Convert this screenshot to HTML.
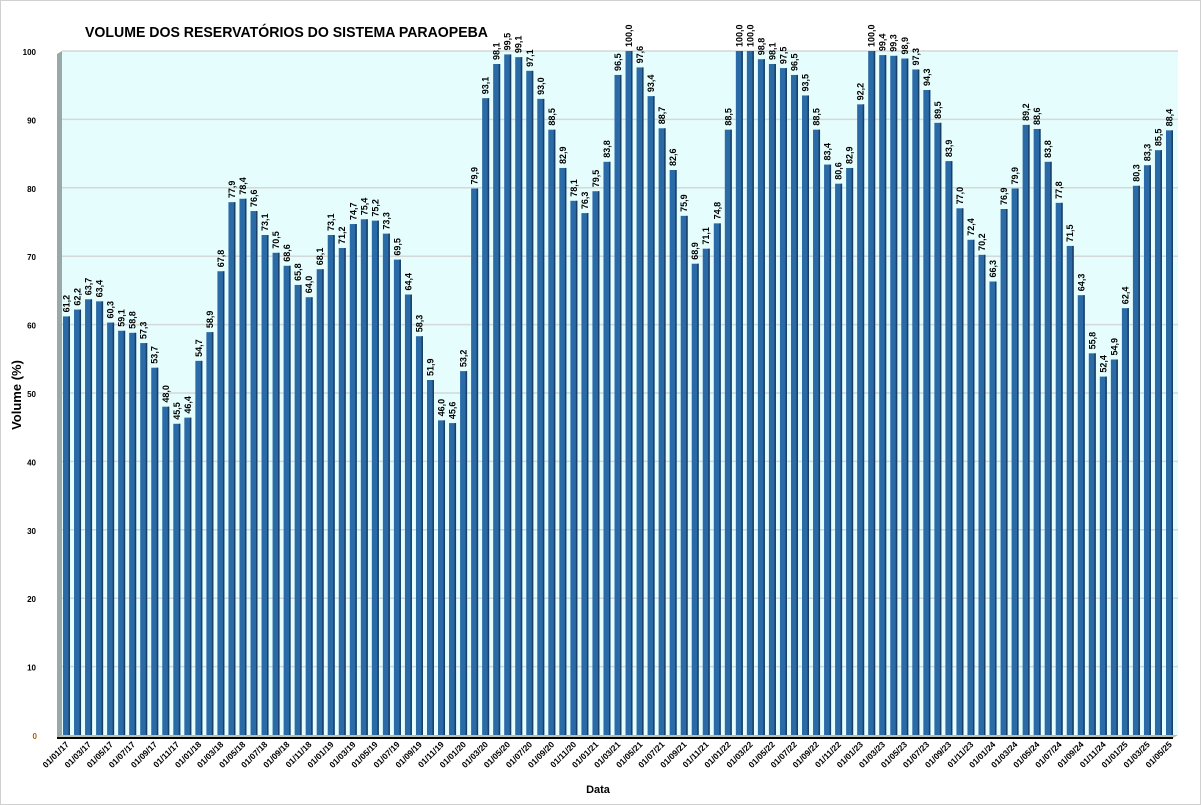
<!DOCTYPE html>
<html><head><meta charset="utf-8"><style>
body{margin:0;background:#fff;}
svg{display:block;font-family:"Liberation Sans",sans-serif;}
</style></head><body>
<svg id="c" width="1201" height="805">
<rect x="0.5" y="0.5" width="1200" height="804" fill="#fff" stroke="#d0d0d0"/>
<text x="85" y="37" font-size="15" font-weight="bold" textLength="403" lengthAdjust="spacingAndGlyphs">VOLUME DOS RESERVATÓRIOS DO SISTEMA  PARAOPEBA</text>
<rect x="62" y="51" width="1116" height="684" fill="#e6fdfd"/>
<polygon points="57,54 62,51 62,735 57,738" fill="#9aa8a8"/>
<polygon points="57,738 62,735 1178,735 1173,738" fill="#bdbfa8"/>
<line x1="57" y1="738" x2="1173" y2="738" stroke="#000" stroke-width="2"/>
<g id="grid"></g><g id="bars"></g><g id="labels"></g><g id="xt"></g><g id="yt"></g>
<text transform="translate(21,395) rotate(-90)" text-anchor="middle" font-size="13" font-weight="bold">Volume (%)</text>
<text x="598" y="793" text-anchor="middle" font-size="11" font-weight="bold">Data</text>
</svg>
<script>
const values=[61.2,62.2,63.7,63.4,60.3,59.1,58.8,57.3,53.7,48.0,45.5,46.4,
54.7,58.9,67.8,77.9,78.4,76.6,73.1,70.5,68.6,65.8,64.0,68.1,
73.1,71.2,74.7,75.4,75.2,73.3,69.5,64.4,58.3,51.9,46.0,45.6,
53.2,79.9,93.1,98.1,99.5,99.1,97.1,93.0,88.5,82.9,78.1,76.3,
79.5,83.8,96.5,100.0,97.6,93.4,88.7,82.6,75.9,68.9,71.1,74.8,
88.5,100.0,100.0,98.8,98.1,97.5,96.5,93.5,88.5,83.4,80.6,82.9,
92.2,100.0,99.4,99.3,98.9,97.3,94.3,89.5,83.9,77.0,72.4,70.2,
66.3,76.9,79.9,89.2,88.6,83.8,77.8,71.5,64.3,55.8,52.4,54.9,
62.4,80.3,83.3,85.5,88.4];
const yTicks=[0,10,20,30,40,50,60,70,80,90,100];
const startYear=17;
const NS="http://www.w3.org/2000/svg";
const x0=63,pitch=11.03,bw=7,yb=735,yt=51;
const y=v=>yb-(v/100)*(yb-yt);
const xs=i=>x0+i*pitch;
function mk(tag,attrs,parent){const e=document.createElementNS(NS,tag);for(const k in attrs)e.setAttribute(k,attrs[k]);document.getElementById(parent).appendChild(e);return e;}
yTicks.forEach(t=>{
 if(t>0){const g=mk('line',{x1:62,x2:1178,y1:y(t),y2:y(t),stroke:'#d4d8d8','stroke-width':1.5},'grid');
 
 }
 const tx=mk('text',{x:t===0?37:36,y:y(t)+4,'text-anchor':'end','font-size':8,'font-weight':'bold',fill:t===0?'#b06000':'#000'},'yt');
 tx.textContent=t;
 
 
});
values.forEach((v,i)=>{
 const x=xs(i);
 const r=mk('rect',{x:x,y:y(v),width:bw,height:yb-y(v),fill:'#2a6aa6'},'bars');
 
 
 const s=mk('rect',{x:x+bw-1.5,y:y(v),width:1.5,height:yb-y(v),fill:'#1a3f66'},'bars');
 
 
 const lx=x+bw/2+3,ly=y(v)-4;
 const l=mk('text',{x:lx,y:ly,transform:`rotate(-90 ${lx} ${ly})`,'font-size':9,'font-weight':'bold'},'labels');
 l.textContent=v.toFixed(1).replace('.',',');
 
 
 if(i%2===0){
  const m=(i%12)+1,yr=startYear+Math.floor(i/12);
  const tx=x+bw/2+3,ty=745;
  const t=mk('text',{x:tx,y:ty,transform:`rotate(-45 ${tx} ${ty})`,'text-anchor':'end','font-size':8.5,'font-weight':'bold'},'xt');
  t.textContent='01/'+String(m).padStart(2,'0')+'/'+yr;
  
  
 }
});
</script>
</body></html>
